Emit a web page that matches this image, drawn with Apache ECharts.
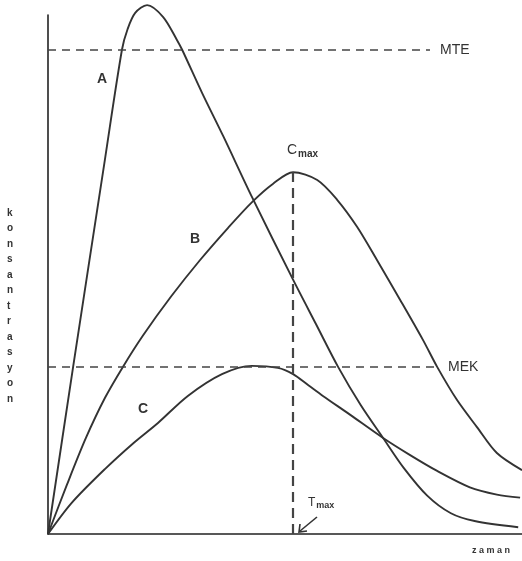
<!DOCTYPE html>
<html>
<head>
<meta charset="utf-8">
<script src="https://cdn.jsdelivr.net/npm/echarts@6/dist/echarts.min.js"></script>
<style>
    html, body { margin: 0; padding: 0; background: #fff; }
    #mainCharts { width: 522px; height: 561px; }
</style>
</head>
<body>
<div id="mainCharts"></div>
<script>
// zaman (x) ve konsantrasyon (y) degerleri, 0-100 olcekte
var zamanA = [0, 5.3, 12.0, 15.6, 16.8, 18.4, 20.9, 24.3, 27.2, 28.3, 32.5, 37.0, 43.1, 51.7, 56.5, 61.2, 66.0, 70.7, 75.0, 80.0, 85.0, 90.0, 99.2];
var konsA  = [0, 32.2, 72.1, 93.3, 97.3, 100.4, 101.9, 99.6, 95.2, 93.3, 85.0, 76.6, 64.8, 49.0, 40.5, 32.2, 24.8, 18.5, 12.8, 7.4, 4.0, 2.5, 1.3];

var zamanB = [0, 4, 8, 12, 15.8, 20, 26, 32, 38, 43.1, 47.5, 51.7, 56.8, 61.0, 65.2, 69.4, 74.3, 79.1, 82.1, 86.3, 90.5, 94.7, 100];
var konsB  = [0, 9.5, 18.5, 26.2, 32.2, 38.2, 45.8, 52.7, 59.0, 64.0, 67.5, 69.7, 68.2, 64.4, 59.2, 52.8, 45.1, 37.4, 32.2, 25.8, 20.6, 15.6, 12.3];

var zamanC = [0, 5, 12, 18, 23.2, 29.5, 36.7, 43.0, 48.5, 51.7, 55.0, 58.0, 63.7, 70.7, 76.4, 82.0, 89.0, 94.7, 99.6];
var konsC  = [0, 6.0, 12.5, 17.5, 21.4, 26.6, 30.8, 32.4, 32.0, 30.8, 28.6, 26.6, 23.0, 18.5, 15.2, 12.2, 9.0, 7.6, 7.0];

var MTE = 93.3;   // minimum toksik etki
var MEK = 32.2;   // minimum etkin konsantrasyon
var Tmax = 51.7;
var Cmax = 69.7;

function zip(xs, ys) {
    var out = [];
    for (var i = 0; i < xs.length; i++) {
        out.push([xs[i], ys[i]]);
    }
    return out;
}

var ink = '#333';
var lineStyle = { color: ink, width: 1.9 };
var dashStyle = { color: '#444', width: 1.6, type: [8, 6] };
var labelFont = 'Liberation Sans, Arial, sans-serif';

var myChart = echarts.init(document.getElementById('mainCharts'));

var option = {
    backgroundColor: '#fff',
    animation: false,
    grid: { left: 48, right: 0, top: 15, bottom: 27 },
    xAxis: {
        type: 'value', min: 0, max: 100,
        axisLine: { lineStyle: { color: '#222', width: 1.6 } },
        axisTick: { show: false }, axisLabel: { show: false }, splitLine: { show: false }
    },
    yAxis: {
        type: 'value', min: 0, max: 100,
        axisLine: { show: true, lineStyle: { color: '#222', width: 1.6 } },
        axisTick: { show: false }, axisLabel: { show: false }, splitLine: { show: false }
    },
    series: [
        {
            name: 'A', type: 'line', data: zip(zamanA, konsA),
            smooth: 0.3, showSymbol: false, clip: false, lineStyle: lineStyle,
            markLine: {
                silent: true, symbol: 'none', lineStyle: dashStyle,
                label: {
                    position: 'end', color: ink, fontSize: 14, fontFamily: labelFont,
                    formatter: '{b}', distance: 10
                },
                data: [
                    [{ name: 'MTE', coord: [0, MTE] }, { coord: [80.6, MTE] }],
                    [{ name: 'MEK', coord: [0, MEK] }, { coord: [82.3, MEK] }]
                ]
            }
        },
        {
            name: 'B', type: 'line', data: zip(zamanB, konsB),
            smooth: 0.3, showSymbol: false, clip: false, lineStyle: lineStyle,
            markLine: {
                silent: true, symbol: 'none',
                lineStyle: { color: '#444', width: 2.2, type: [10, 6] },
                label: { show: false },
                data: [
                    [{ coord: [Tmax, 0] }, { coord: [Tmax, Cmax] }]
                ]
            }
        },
        {
            name: 'C', type: 'line', data: zip(zamanC, konsC),
            smooth: 0.3, showSymbol: false, clip: false, lineStyle: lineStyle
        }
    ],
    graphic: [
        { type: 'text', left: 97, top: 72, style: { text: 'A', fill: ink, font: 'bold 14px ' + labelFont } },
        { type: 'text', left: 190, top: 232, style: { text: 'B', fill: ink, font: 'bold 14px ' + labelFont } },
        { type: 'text', left: 138, top: 402, style: { text: 'C', fill: ink, font: 'bold 14px ' + labelFont } },
        {
            type: 'text', left: 287, top: 143,
            style: {
                text: '{c|C}{s|max}', fill: ink,
                rich: {
                    c: { fontSize: 14, fontFamily: labelFont, color: ink },
                    s: { fontSize: 10, fontFamily: labelFont, color: ink, fontWeight: 'bold', padding: [8, 0, 0, 1] }
                }
            }
        },
        {
            type: 'text', left: 308, top: 497,
            style: {
                text: '{c|T}{s|max}', fill: ink,
                rich: {
                    c: { fontSize: 12, fontFamily: labelFont, color: ink },
                    s: { fontSize: 9, fontFamily: labelFont, color: ink, fontWeight: 'bold', padding: [6, 0, 0, 1] }
                }
            }
        },
        // Tmax oku
        { type: 'line', shape: { x1: 317, y1: 517, x2: 300, y2: 531 }, style: { stroke: ink, lineWidth: 1.6 } },
        { type: 'polyline', shape: { points: [[300, 524], [299, 532], [307, 531]] }, style: { stroke: ink, lineWidth: 1.6, fill: null } },
        {
            type: 'text', left: 472, top: 546,
            style: { text: 'z a m a n', fill: ink, font: 'bold 9px ' + labelFont }
        },
        {
            type: 'text', left: 7, top: 205,
            style: {
                text: 'k\no\nn\ns\na\nn\nt\nr\na\ns\ny\no\nn',
                fill: ink, font: 'bold 10px ' + labelFont, lineHeight: 15.5, align: 'center'
            }
        }
    ]
};

myChart.setOption(option);
</script>
</body>
</html>
